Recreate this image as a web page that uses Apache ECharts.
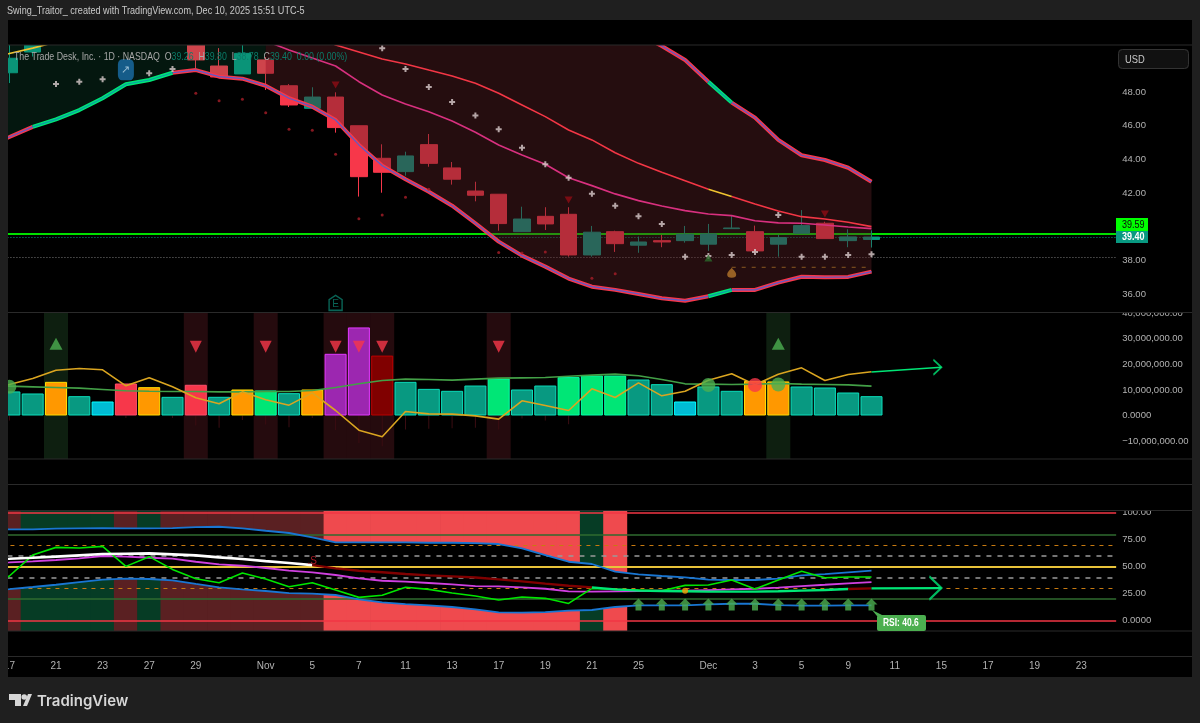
<!DOCTYPE html>
<html lang="en">
<head>
<meta charset="UTF-8">
<title>TTD</title>
<script src="https://cdn.jsdelivr.net/npm/echarts@6/dist/echarts.min.js"></script>
<style>html,body{margin:0;padding:0;background:#1f1f1f}#main{width:1200px;height:723px}</style>
</head>
<body>
<div id="main"></div>
<script>
// first entry (Oct 16) sits behind the left frame, it only makes the lines reach the edge
var categories = ['Oct 16','Oct 17','Oct 20','Oct 21','Oct 22','Oct 23','Oct 24','Oct 27','Oct 28','Oct 29','Oct 30','Oct 31',
  'Nov 3','Nov 4','Nov 5','Nov 6','Nov 7','Nov 10','Nov 11','Nov 12','Nov 13','Nov 14','Nov 17','Nov 18','Nov 19','Nov 20','Nov 21','Nov 24','Nov 25','Nov 26','Nov 28',
  'Dec 1','Dec 2','Dec 3','Dec 4','Dec 5','Dec 8','Dec 9','Dec 10','Dec 11','Dec 12','Dec 15','Dec 16','Dec 17','Dec 18','Dec 19','Dec 22','Dec 23','Dec 24'];
var tickLabels = {'Oct 17':'17','Oct 21':'21','Oct 23':'23','Oct 27':'27','Oct 29':'29','Nov 3':'Nov','Nov 5':'5','Nov 7':'7','Nov 11':'11','Nov 13':'13','Nov 17':'17','Nov 19':'19','Nov 21':'21','Nov 25':'25','Dec 1':'Dec','Dec 3':'3','Dec 5':'5','Dec 9':'9','Dec 11':'11','Dec 15':'15','Dec 17':'17','Dec 19':'19','Dec 23':'23'};
var priceTicks = [36,38,42,44,46,48];
var volumeTicks = [-10000000,0,10000000,20000000,30000000,40000000];
var rsiTicks = [0,25,50,75,100];

// open, close, low, high
var candles = [[48.9,49.2,48.6,49.6],[49.14,50.0,48.53,51],[50.37,51.4,50.1,51.9],[51.3,52.5,51.1,53],[52.5,52.9,51.9,53.4],[52.9,53.4,52.4,54],[53.4,54.4,53,55],[53.6,53.2,52.6,54.8],[53.2,53.6,52.6,54.2],
  [53,49.9,49.42,53.4],[49.54,48.89,48.89,50.6],[49.07,50.29,49.07,51],[49.9,49.11,48.12,50.07],[48.37,47.23,47.11,48.47],[47.03,47.7,47.03,48.28],[47.7,45.89,45.59,47.98],[46,42.98,41.8,46],[44.07,43.24,42.03,44.9],[43.28,44.21,43.04,44.46],[44.88,43.77,43.57,45.51],
  [43.5,42.83,42.51,43.85],[42.13,41.88,41.52,42.68],[41.94,40.2,39.78,41.94],[39.72,40.47,39.72,41.2],[40.63,40.18,39.82,41.17],[40.75,38.34,38.24,41.17],[38.34,39.69,38.24,40.06],[39.72,39.01,38.52,39.78],[38.92,39.11,38.47,39.43],[39.19,39.11,38.8,39.53],
  [39.19,39.57,39.07,40.06],[38.98,39.59,38.58,40.18],[39.9,39.94,39.9,40.65],[39.72,38.58,38.46,40.08],[38.98,39.37,38.24,39.53],[39.63,40.08,39.63,41],[40.22,39.31,39.31,40.31],[39.19,39.41,38.8,39.86],[39.26,39.4,38.78,39.8]];
var bandUpper = [52,52.3,52.6,52.9,53.2,53.5,53.8,54,54.2,54.4,54.5,54.6,54.6,54.6,54.5,54.4,54.3,54.2,54.1,54,53.9,53.8,53.7,53.6,53.5,53.3,52.74,52.09,51.44,50.73,49.9,48.61,47.37,46.48,45.16,44.25,43.97,43.51,42.68];
var bandLower = [44.74,45.33,45.93,46.38,46.93,47.63,48.46,48.71,49.14,49.3,48.91,48.79,48.37,47.63,47.13,46.34,44.86,43.63,42.83,42.09,41.26,40.22,39.13,38.3,37.65,36.94,36.46,36.27,36.03,35.77,35.63,35.89,36.27,36.27,36.7,37.05,37.02,37.04,37.35];
var maRed = [49.9,50.28,50.6,50.96,51.6,52.2,52.6,52.9,53.1,53.2,53.1,52.9,52.5,52.03,51.44,50.79,50.37,49.95,49.66,49.3,48.95,48.52,47.92,47.23,46.54,45.75,45.16,44.4,43.77,43.24,42.74,42.23,41.8,41.36,40.95,40.61,40.47,40.28,40.02];
var maPink = [51.4,51.6,51.8,52,52.2,52.4,52.5,52.5,52.4,52.3,52,51.56,51.02,50.49,50.02,49.54,48.61,47.82,47.29,46.83,46.28,45.61,44.86,44.27,43.72,42.92,42.45,41.96,41.56,41.24,40.97,40.77,40.67,40.37,40.24,40.22,40.12,40,39.9];
var crossPts = [[3,48.47],[4,48.61],[5,48.75],[7,49.11],[8,49.36],[17,50.59],[18,49.36],[19,48.3],[20,47.41],[21,46.6],[22,45.79],[23,44.7],[24,43.72],[25,42.92],[26,41.97],[27,41.26],[28,40.63],[29,40.18],[30,38.24],[31,38.28],[32,38.34],[33,38.52],[34,40.71],[35,38.24],[36,38.24],[37,38.34],[38,38.38]];
var redDots = [[9,47.92],[10,47.48],[11,47.57],[12,46.77],[13,45.79],[14,45.73],[15,44.31],[16,40.49],[17,40.71],[18,41.76],[19,42.23],[22,38.48],[23,38.46],[24,38.52],[26,36.96],[27,37.22]];
var priceDown = [[15,48.41],[25,41.6],[36,40.77]];
var priceUp = [[31,38.16]];
var priceLevels = [39.59,39.40,38.22];
var dashLevel = [[32,37.61],[38,37.61]];

var volumes = [8,9.4,8.6,13.15,7.55,5.47,12.5,11.07,7.29,12,7.3,10.16,9.77,8.72,10.16,24.1,34.4,23.4,13.15,10.4,9.64,11.7,14.45,10.16,11.7,15,15.6,15.6,14.06,12.24,5.47,11.33,9.64,13.5,13.3,11.33,10.94,8.98,7.55];
var volColors = ['teal','teal','teal','orange','teal','cyan','red','orange','teal','red','teal','orange','green','teal','orange','purple','purple','maroon','teal','teal','teal','teal','green','teal','teal','green','green','green','teal','teal','cyan','teal','teal','orange','orange','teal','teal','teal','teal'];
var volMa = [11.6,11.46,11.2,10.94,10.68,10.16,9.64,9.5,9.38,9.38,9.24,9.24,9.38,9.38,9.77,10.94,12.37,13.67,14.2,14.06,13.8,14.2,14.58,14.71,14.84,15.36,15.76,16.15,15.5,14.06,12.37,12.24,12.11,12.24,12.5,12.24,12.11,11.98,11.46];
var volDelta = [10,12.1,14.45,17.7,18.36,17.84,11.59,14.7,11.2,6.9,4.56,9.24,6.12,4.04,8.85,1.95,-5.73,-8.33,1.56,0.65,0.52,-0.13,-1.43,5.73,3.9,1.95,10.42,7.03,12.76,7.68,9.5,13.8,16.28,11.98,16.15,18.62,13.67,16,17.06];
var volWicks = [0,-2,0,0,0,0,-1,0,-1,-3.9,-4.8,-1.8,-3.5,-4.6,-1,-5.7,-10.7,-12,-5.5,-5.2,-5,-4.8,-5.5,-1.2,-2,-3.4];
var volArrow = [[38,17],[41,18.83]];
var hiliteRed = [9,12,15,16,17,22];
var hiliteGreen = [3,34];
var signalDown = [[9,26.9],[12,26.9],[15,26.9],[16,26.9],[17,26.9],[22,26.9]];
var signalUp = [[3,28.05],[34,28.05]];
var dotsGreen = [[1,11.2],[31,11.9],[34,12.1]];
var dotsRed = [[33,11.9]];

var rsiBack = ['d','d','g','g','g','g','d','g','d','d','d','d','d','d','d','b','b','b','b','b','b','b','b','b','b','b','g','b'];
var rsiUpper = [84.6,84.6,84.6,85.2,85.5,85.8,85.5,85.5,85.8,86.7,87,85.5,83.3,81.2,77.2,72.5,72.5,72.5,72.5,72.2,72.2,71.9,71,67,60.8,54.6,52.5,45.4,42.9,41.4,40.1,38,37.7,37.7,38.9,42,43.2,44.8,46.3];
var rsiLower = [27.5,29.3,31.2,33.3,35.8,38,38.9,38.6,37.3,34,30.9,29,27.5,25.6,25,23.8,19.8,17,15.4,14.2,12.7,10.5,7.7,7.4,8,9.3,9.9,12.7,14.2,14.2,14.2,15.1,15.7,15.7,14.5,13.9,13.9,14.2,14.2];
var rsiFast = [28.4,41.4,60.8,67.9,67.3,68.8,50.3,59.3,47.5,38.9,35.2,44.1,38.6,31.5,35.2,28.4,21.6,23.5,30.9,29,25.6,22.8,19.1,21.9,20.7,16,29.9,29,28.4,27.8,32.7,33,37.7,29.3,37.7,45.7,39.8,40.4,40.4];
var rsiMagenta = [53.5,54,54.9,56.2,57.7,59.9,59.3,58.3,57.4,54.6,52.2,50.9,48.8,46.3,44.8,42.3,39.2,37,36.1,34.9,33.6,32.1,31.8,30.9,29.6,27.2,26.9,27.2,27.5,27.8,27.8,28.4,29,29.6,30.6,32.1,33.3,34.6,35.8];
var rsiSignal = [56.8,57.4,58.3,59.3,60.5,61.7,62,62.3,61.4,60.5,58.6,57.1,55.2,53.4,51.5,48.5,46.3,44.8,43.2,42,41,40,38.3,36.4,34.3,32.4,30.9,29,27.8,27.5,27.2,26.9,26.9,26.9,27.2,27.8,28.4,29.3,29.9];
var rsiArrow = [[38,29.9],[41,30.2]];
var rsiUpArrows = [28,29,30,31,32,33,34,35,36,37,38];
var rsiArrowLevel = 15.1;
var rsiDot = [[30,27.8]];
var rsiS = [[14,54.6]];

var font = '"Liberation Sans", sans-serif';
var axisGray = '#b2b2b2';
var palette = {teal:'#089981',cyan:'#00bcd4',orange:'#ff9800',red:'#f7374a',green:'#00e676',purple:'#9c27b0',maroon:'#800000'};
var backPalette = {d:'#5a2022',g:'#063c25',b:'#ef4a4e'};
var chevron = 'path://M0 0L10 10L0 20';

var grids = [
  {left:-25.55,width:1141.7,top:45,height:267.5,outerBoundsMode:'none'},
  {left:-25.55,width:1141.7,top:312.5,height:146.5,outerBoundsMode:'none'},
  {left:-25.55,width:1141.7,top:510.5,height:120.5,outerBoundsMode:'none'},
  {left:-25.55,width:1141.7,top:631,height:25.5,outerBoundsMode:'none'}
];
function xAx(g,show){
  return {type:'category',gridIndex:g,data:categories,show:!!show,axisLine:{show:false},axisTick:{show:false},
    axisLabel:{interval:0,margin:5,color:axisGray,fontFamily:font,fontSize:10,hideOverlap:false,formatter:function(v){return tickLabels[v]||'';}}};
}
function yAx(g,min,max,ticks,fmt){
  return {type:'value',gridIndex:g,position:'right',min:min,max:max,scale:true,show:!!ticks,splitLine:{show:false},axisLine:{show:false},axisTick:{show:false},
    axisLabel:{customValues:ticks||[],margin:6,color:axisGray,fontFamily:font,fontSize:9.5,formatter:fmt}};
}
function money(v){return v===0?'0.0000':v.toFixed(2);}
function volLabel(v){
  if(v===0)return '0.0000';
  return (v<0?'\u2212':'')+Math.abs(v).toLocaleString('en-US')+'.00';
}
function seg(arr,from,to){return arr.map(function(v,i){return i>=from&&i<=to?v:null;});}
function line(data,color,width,x,y,z,extra){
  var s={type:'line',data:data,xAxisIndex:x,yAxisIndex:y,z:z,symbol:'none',silent:true,lineStyle:{color:color,width:width}};
  for(var k in extra)s[k]=extra[k];
  return s;
}
function scatter(data,symbol,size,color,x,y,z,extra){
  var s={type:'scatter',data:data,xAxisIndex:x,yAxisIndex:y,z:z,symbol:symbol,symbolSize:size,silent:true,itemStyle:{color:color}};
  for(var k in extra)s[k]=extra[k];
  return s;
}
function levels(list,x,y,z){
  return {type:'line',data:[null],xAxisIndex:x,yAxisIndex:y,z:z,symbol:'none',silent:true,
    markLine:{silent:true,symbol:'none',z:z,animation:false,label:{show:false},data:list}};
}
function diff(a,b){return a.map(function(v,i){return v===null?null:v-b[i];});}
function M(arr){return arr.map(function(v){return v*1000000;});}
function MP(arr){return arr.map(function(p){return [p[0],p[1]*1000000];});}

var series = [];
// price pane
series.push(levels([
  {yAxis:priceLevels[0],lineStyle:{color:'#00e000',width:2,type:'solid'}},
  {yAxis:priceLevels[1],lineStyle:{color:'#089981',width:1,type:[1,2]}},
  {yAxis:priceLevels[2],lineStyle:{color:'#7a7a7a',width:1,type:[1,2]}}
],0,0,1));
series.push({type:'candlestick',data:candles,xAxisIndex:0,yAxisIndex:0,z:2,barWidth:17,silent:true,
  itemStyle:{color:'#089981',color0:'#f7374a',borderColor:'#089981',borderColor0:'#f7374a',borderWidth:1}});
// cloud goes over the candles, that is why they look dim inside it
var greenEnd=12;
series.push(line(seg(bandLower,0,greenEnd),'transparent',0,0,0,3,{stack:'cg'}));
series.push(line(diff(seg(bandUpper,0,greenEnd),bandLower),'transparent',0,0,0,3,{stack:'cg',areaStyle:{color:'rgba(20,130,85,0.18)',opacity:1}}));
series.push(line(seg(bandLower,greenEnd,38),'transparent',0,0,0,3,{stack:'cr'}));
series.push(line(diff(seg(bandUpper,greenEnd,38),bandLower),'transparent',0,0,0,3,{stack:'cr',areaStyle:{color:'rgba(89,31,36,0.417)',opacity:1}}));
// moving averages
series.push(line(seg(maRed,3,31),'#f23645',1.6,0,0,4));
series.push(line(seg(maRed,32,38),'#f23645',1.6,0,0,4));
series.push(line(seg(maRed,0,3),'#f0c330',1.6,0,0,4));
series.push(line(seg(maRed,31,32),'#f0c330',1.6,0,0,4));
series.push(line(maPink,'#d8307f',1.6,0,0,4));
// band edges: thick outer + thin inner
[[bandLower,[[0,2],[8,31],[32,38]],[[2,8],[31,32]]],[bandUpper,[[0,31],[32,38]],[[31,32]]]].forEach(function(b){
  b[1].forEach(function(r){
    series.push(line(seg(b[0],r[0],r[1]),'#f7374a',4,0,0,5));
    series.push(line(seg(b[0],r[0],r[1]),'#5c5bc8',1.2,0,0,6));
  });
  b[2].forEach(function(r){
    series.push(line(seg(b[0],r[0],r[1]),'#00e676',4,0,0,5));
    series.push(line(seg(b[0],r[0],r[1]),'#0a9aa8',1.2,0,0,6));
  });
});
series.push(scatter(crossPts,'path://M2 0H4V2H6V4H4V6H2V4H0V2H2Z',6,'#d9cccc',0,0,7));
series.push(scatter(redDots,'circle',3,'#a81e28',0,0,7));
series.push(scatter(priceDown,'triangle',[8,7],'#8e0c14',0,0,7,{symbolRotate:180}));
series.push(scatter(priceUp,'triangle',[8,7],'#2a6a2a',0,0,7));
series.push(line(dashLevel,'#8a5a22',1,0,0,4,{lineStyle:{color:'#8a5a22',width:1,type:[4,6]}}));
series.push(scatter([[32,37.29]],'path://M6 0C7 2 12 5 12 10C12 13 10 14 6 14C2 14 0 13 0 10C0 5 5 2 6 0Z',[9,10],'#b5772a',0,0,7));
series.push(scatter([[6,49.32]],'roundRect',[16,21],'#1a6ea8',0,0,7,{label:{show:true,formatter:'\u2197',color:'#bcd8e8',fontSize:11,position:'inside'}}));
series.push(scatter([[15,35.5]],'path://M5 0L10 4V14H0V4Z',[13,15],'transparent',0,0,7,{itemStyle:{color:'transparent',borderColor:'#0b7d6b',borderWidth:1.5},label:{show:true,formatter:'E',color:'#0b7d6b',fontSize:10,fontFamily:font,position:'inside',offset:[0,1]}}));

// volume pane
var hiliteData = categories.map(function(c,i){
  if(hiliteRed.indexOf(i)>=0)return {value:1,itemStyle:{color:'#250b0e'}};
  if(hiliteGreen.indexOf(i)>=0)return {value:1,itemStyle:{color:'#0e1f10'}};
  return null;
});
series.push({type:'bar',data:hiliteData,xAxisIndex:2,yAxisIndex:2,barWidth:24,z:1,silent:true});
series.push({type:'bar',data:M(volWicks),xAxisIndex:3,yAxisIndex:1,barWidth:1,z:2,silent:true,itemStyle:{color:'#3b0d12'}});
series.push({type:'bar',xAxisIndex:1,yAxisIndex:1,barWidth:22,z:3,silent:true,data:volumes.map(function(v,i){
  var c=palette[volColors[i]];
  return {value:v*1000000,itemStyle:{color:c,borderColor:echarts.color.lift(c,-0.45),borderWidth:1}};
})});
series.push(line(M(volMa),'#43a047',1.6,1,1,4));
series.push(line(M(volDelta),'#daa520',1.6,1,1,4));
series.push(line(MP(volArrow),'#00e676',1.6,1,1,4));
series.push(scatter(MP([volArrow[1]]),chevron,[8,15],'transparent',1,1,5,{symbolOffset:[-4,0],itemStyle:{color:'transparent',borderColor:'#00e676',borderWidth:1.6}}));
series.push(scatter(MP(dotsGreen),'circle',14,'#4caf50',1,1,5));
series.push(scatter(MP(dotsRed),'circle',14,'#f7374a',1,1,5));
series.push(scatter(MP(signalUp),'triangle',[13,12],'#4caf50',1,1,5));
series.push(scatter(MP(signalDown),'triangle',[12,12],'#f7374a',1,1,5,{symbolRotate:180}));

// rsi pane
series.push({type:'bar',xAxisIndex:4,yAxisIndex:4,barWidth:24,z:0,silent:true,data:rsiBack.map(function(k){
  return {value:1,itemStyle:{color:backPalette[k]}};
})});
series.push(line(rsiLower,'transparent',0,4,3,1,{stack:'hole'}));
series.push(line(diff(rsiUpper,rsiLower),'transparent',0,4,3,1,{stack:'hole',areaStyle:{color:'#000',opacity:1}}));
series.push(levels([
  {yAxis:100,lineStyle:{color:'#f23645',width:1.5,type:'solid'}},
  {yAxis:0,lineStyle:{color:'#f23645',width:1.5,type:'solid'}},
  {yAxis:80,lineStyle:{color:'#2f6b2f',width:1.5,type:'solid'}},
  {yAxis:20,lineStyle:{color:'#2f6b2f',width:1.5,type:'solid'}},
  {yAxis:70,lineStyle:{color:'#c87a10',width:1,type:[4,5]}},
  {yAxis:30,lineStyle:{color:'#c87a10',width:1,type:[4,5]}},
  {yAxis:60,lineStyle:{color:'#9a9a9a',width:1.6,type:[5,6]}},
  {yAxis:40,lineStyle:{color:'#9a9a9a',width:1.6,type:[5,6]}},
  {yAxis:50,lineStyle:{color:'#e8c33a',width:2,type:'solid'}}
],4,3,2));
series.push(line(rsiUpper,'#1976d2',1.8,4,3,3));
series.push(line(rsiLower,'#1976d2',1.8,4,3,3));
series.push(line(rsiMagenta,'#d040e0',1.8,4,3,4));
series.push(line(rsiFast,'#00e600',1.6,4,3,5));
series.push(line(seg(rsiSignal,0,14),'#ffffff',2.6,4,3,6));
series.push(line(seg(rsiSignal,14,26),'#800000',2.4,4,3,6));
series.push(line(seg(rsiSignal,26,37),'#00e676',2.4,4,3,6));
series.push(line(seg(rsiSignal,37,38),'#800000',2.4,4,3,6));
series.push(line(rsiArrow,'#00e676',2.2,4,3,6));
series.push(scatter([rsiArrow[1]],chevron,[12,23],'transparent',4,3,7,{symbolOffset:[-6,0],itemStyle:{color:'transparent',borderColor:'#00e676',borderWidth:2}}));
series.push(scatter(rsiUpArrows.map(function(i){return [i,rsiArrowLevel];}),'path://M6 0L12 6H9V12H3V6H0Z',12,'#4caf50',4,3,7));
series.push(scatter(rsiDot,'circle',6,'#ff9800',4,3,8));
series.push(scatter(rsiS,'circle',1,'transparent',4,3,8,{label:{show:true,formatter:'.S',color:'#d02030',fontSize:10,fontFamily:font,position:'inside'}}));

// hidden series for the time axis grid so it is not empty
series.push({type:'line',data:[null],xAxisIndex:5,yAxisIndex:5,silent:true,symbol:'none'});

var chrome = [];
function rect(x,y,w,h,fill,z,r){
  chrome.push({type:'rect',silent:true,z:z,shape:{x:x,y:y,width:w,height:h,r:r||0},style:{fill:fill}});
}
// squeezed horizontally, the original font is narrower than anything installed
function text(x,y,t,color,size,z,sx,extra){
  var st={x:0,y:0,text:t,fill:color,fontSize:size,fontFamily:font,textVerticalAlign:'middle'};
  for(var k in extra)st[k]=extra[k];
  chrome.push({type:'text',silent:true,z:z,x:x,y:y,scaleX:sx||1,style:st});
}
// candlesticks are not clipped at the grid top, blank the strip above the price pane
rect(8,20,1184,25,'#000',50);
// clip half labels at pane tops
rect(1116,500,76,10.5,'#000',50);
rect(1116,302,76,10.5,'#000',50);
[45,312.5,459,484.5,510.5,631,656.5].forEach(function(y){rect(8,y-0.5,1184,1,'#2a2a2a',60);});
// frame
rect(0,0,1200,20,'#1f1f1f',100);
rect(0,677,1200,46,'#1f1f1f',100);
rect(0,0,8,723,'#1f1f1f',100);
rect(1192,0,8,723,'#1f1f1f',100);
text(7,11,'Swing_Traitor_ created with TradingView.com, Dec 10, 2025 15:51 UTC-5','#c9c9c9',11.5,101,0.79);
// legend row
text(14,57,'{a|The Trade Desk, Inc. \u00b7 1D \u00b7 NASDAQ}  {a|O}{b|39.26}  {a|H}{b|39.80}  {a|L}{b|38.78}  {a|C}{b|39.40}  {b|0.00 (0.00%)}','#a8a8a8',11.5,70,0.765,
  {rich:{a:{fill:'#a8a8a8',fontSize:11.5,fontFamily:font},b:{fill:'#0a7c69',fontSize:11.5,fontFamily:font}}});
// USD box
rect(1118,49,71,20,'#111111',70,4);
chrome.push({type:'rect',silent:true,z:71,shape:{x:1118.5,y:49.5,width:70,height:19,r:4},style:{fill:'none',stroke:'#333',lineWidth:1}});
text(1125,59.5,'USD','#c8c8c8',11,72,0.85);
// last price tags
rect(1116,218,32,13,'#00ff00',70);
text(1122,224.8,'39.59','#0a0a0a',11,72,0.82);
rect(1116,231,32,12,'#089981',70);
text(1122,237.3,'39.40','#ffffff',11,72,0.82,{fontWeight:'bold'});
// rsi tag
chrome.push({type:'polygon',silent:true,z:70,shape:{points:[[872,610],[877,616],[884,616]]},style:{fill:'#4caf50'}});
rect(877,615,49,16,'#4caf50',70,2);
text(883,623.3,'RSI: 40.6','#ffffff',11,72,0.77,{fontWeight:'bold'});
// footer logo
chrome.push({type:'polygon',silent:true,z:110,shape:{points:[[9,694],[21,694],[21,706],[15,706],[15,700],[9,700]]},style:{fill:'#d6d6d6'}});
chrome.push({type:'circle',silent:true,z:110,shape:{cx:24.2,cy:697,r:2.8},style:{fill:'#d6d6d6'}});
chrome.push({type:'polygon',silent:true,z:110,shape:{points:[[23,706],[28,694],[32,694],[27,706]]},style:{fill:'#d6d6d6'}});
text(37,701,'TradingView','#d6d6d6',15,110,1,{fontWeight:600,fontFamily:'Inter, sans-serif'});

var option = {
  animation:false,
  backgroundColor:'#000',
  grid:grids,
  xAxis:[xAx(0),xAx(1),xAx(1),xAx(1),xAx(2),xAx(3,true)],
  yAxis:[
    yAx(0,34.93,50.785,priceTicks,money),
    yAx(1,-16990000,40230000,volumeTicks,volLabel),
    yAx(1,0,1),
    yAx(2,-9.54,102.04,rsiTicks,money),
    yAx(2,0,1),
    yAx(3,0,1)
  ],
  series:series,
  graphic:{elements:chrome}
};
var myChart = echarts.init(document.getElementById('main'));
myChart.setOption(option);
</script>
</body>
</html>
